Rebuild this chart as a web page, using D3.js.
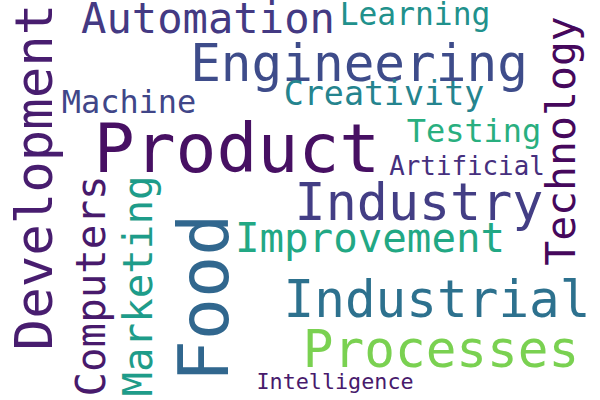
<!DOCTYPE html>
<html>
<head>
<meta charset="utf-8">
<script src="https://d3js.org/d3.v7.min.js"></script>
<style>
  html, body { margin: 0; padding: 0; background: #fff; }
  svg { display: block; }
</style>
</head>
<body>
<div id="chart"></div>
<script>
// Words and their relative weights
var words = ['Product', 'Food', 'Development', 'Engineering', 'Industry', 'Industrial',
  'Processes', 'Automation', 'Improvement', 'Technology', 'Computers', 'Marketing',
  'Creativity', 'Machine', 'Testing', 'Learning', 'Artificial', 'Intelligence'];
var weights = [1.00, 1.03, 0.77, 0.75, 0.76, 0.75, 0.75, 0.62, 0.60, 0.61, 0.60, 0.60,
  0.49, 0.47, 0.47, 0.46, 0.38, 0.32];

// Placement of each word: anchor x, y (in a 600x400 frame), rotation, colour position on viridis
var layout = [
  { x: 237, y: 172, rot: 0, t: 0.04 },
  { x: 228, y: 298, rot: -90, t: 0.33 },
  { x: 52, y: 177, rot: -90, t: 0.08 },
  { x: 359, y: 81, rot: 0, t: 0.23 },
  { x: 419, y: 220, rot: 0, t: 0.18 },
  { x: 437, y: 317, rot: 0, t: 0.37 },
  { x: 441, y: 367, rot: 0, t: 0.80 },
  { x: 208, y: 33, rot: 0, t: 0.17 },
  { x: 370, y: 252, rot: 0, t: 0.60 },
  { x: 575, y: 141, rot: -90, t: 0.02 },
  { x: 105, y: 286, rot: -90, t: 0.07 },
  { x: 152, y: 286, rot: -90, t: 0.55 },
  { x: 384, y: 105, rot: 0, t: 0.45 },
  { x: 129, y: 113, rot: 0, t: 0.21 },
  { x: 474, y: 142, rot: 0, t: 0.63 },
  { x: 415, y: 25, rot: 0, t: 0.50 },
  { x: 467, y: 175, rot: 0, t: 0.14 },
  { x: 335, y: 389, rot: 0, t: 0.07 }
];

var WordCloud = class WordCloud {
  constructor(elem, w, h) {
    this.w = w;
    this.h = h;
    this.svg = d3.select(elem).append('svg')
      .attr('width', w).attr('height', h)
      .attr('xmlns', 'http://www.w3.org/2000/svg');
    this.g = this.svg.append('g');
    this.x = d3.scaleLinear().domain([0, 600]).range([0, w]);
    this.y = d3.scaleLinear().domain([0, 400]).range([0, h]);
    this.size = d3.scaleLinear().domain([0, 1]).range([0, 68]);
    this.color = d3.scaleSequential(d3.interpolateViridis).domain([0, 1]);
  }

  draw(words, weights, layout) {
    var data = words.map((w, i) => ({ text: w, weight: weights[i], pos: layout[i] }));
    this.g.selectAll('text').data(data).enter().append('text')
      .attr('transform', d => `translate(${this.x(d.pos.x)},${this.y(d.pos.y)}) rotate(${d.pos.rot})`)
      .attr('text-anchor', 'middle')
      .style('font-family', '"DejaVu Sans Mono", monospace')
      .style('font-size', d => this.size(d.weight) + 'px')
      .style('fill', d => this.color(d.pos.t))
      .text(d => d.text);
  }
};

var cloud = new WordCloud('#chart', 600, 400);
cloud.draw(words, weights, layout);
</script>
</body>
</html>
